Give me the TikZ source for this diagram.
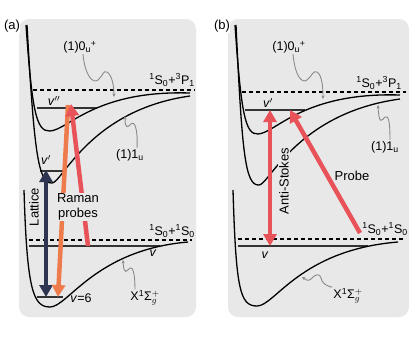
\documentclass[tikz,border=0pt]{standalone}
\usepackage{fontspec}
\setmainfont{Liberation Sans}
\usetikzlibrary{arrows.meta}
\definecolor{panel}{HTML}{E9E8E9}
\definecolor{navy}{HTML}{2D3550}
\definecolor{salmon}{HTML}{EE7B4C}
\definecolor{rose}{HTML}{E8535A}
\definecolor{wiggle}{HTML}{8A8A8A}

\begin{document}
\begin{tikzpicture}[x=1pt, y=-1pt,
  potential/.style={black, line width=1.3pt},
  asym/.style={black, line width=1.1pt, dash pattern=on 4pt off 3pt},
  vib/.style={black!80, line width=1.1pt},
  pointer/.style={wiggle, line width=0.9pt, -{Stealth[length=3.5pt,width=3.2pt]}},
  beam/.style={line width=4.5pt, -{Triangle[length=12pt,width=13pt]}},
  twoway/.style={line width=4.5pt, {Triangle[length=12pt,width=13pt]}-{Triangle[length=12pt,width=13pt]}},
  statelabel/.style={font=\fontsize{12.5}{14}\selectfont, inner sep=1pt},
  biglabel/.style={font=\fontsize{13}{15}\selectfont, inner sep=1pt}
]
  \useasboundingbox (0,0) rectangle (415,338);
  \fill[panel, rounded corners=10pt] (19,19) rectangle (196,317);
  \fill[panel, rounded corners=10pt] (228,19) rectangle (409,317);
  \node[biglabel, fill=white, inner sep=0.5pt] (taga) at (12,26.5) {(a)};
  \node[biglabel, fill=white, inner sep=0.5pt] (tagb) at (222,26.5) {(b)};

  % (a) Raman
  \draw[asym] (33,90) -- (195,90);
  \draw[asym] (29,240) -- (192,240);
  \draw[vib] (37,108) -- (97,108);
  \draw[vib] (40,171) -- (63,171);
  \draw[vib] (29,246) -- (160,246);
  \draw[vib] (37,297) -- (63,297);
  \draw[potential] (26,25) .. controls (32,110) and (36,132) .. (50,131) .. controls (68,130) and (95,90) .. (190,93);
  \draw[potential] (27,25) .. controls (34,150) and (38,184) .. (52,183) .. controls (62,183) and (90,110) .. (190,96);
  \draw[potential] (24,190) .. controls (27,290) and (33,307) .. (50,307) .. controls (68,307) and (95,250) .. (188,242);

  \coordinate (lattop) at (46,170);
  \coordinate (latbot) at (46,297);
  \coordinate (orgtop) at (68,105);
  \coordinate (orgbot) at (58,297);
  \coordinate (redbot) at (88,246);
  \coordinate (redtop) at (71,104);
  \draw[twoway, navy] (lattop) -- (latbot);
  \draw[beam, salmon] (orgtop) -- (orgbot);
  \draw[beam, rose] (redbot) -- (redtop);
  \node[biglabel, fill=panel, align=center] (raman) at (78,207) {Raman\\probes};
  \node[biglabel, rotate=90] (lattice) at (34,207) {Lattice};

  \node[statelabel] (l0ua) at (80,47) {(1)0\textsubscript{u}\textsuperscript{+}};
  \node[statelabel] (l1ua) at (130,155) {(1)1\textsubscript{u}};
  \node[statelabel] (lXa) at (145,298) {X\textsuperscript{1}Σ$_{g}^{+}$};
  \node[statelabel] (s3pa) at (172,80) {\textsuperscript{1}S\textsubscript{0}+\textsuperscript{3}P\textsubscript{1}};
  \node[statelabel] (s1sa) at (172,231) {\textsuperscript{1}S\textsubscript{0}+\textsuperscript{1}S\textsubscript{0}};
  \node[statelabel] (vppa) at (54,101) {\textit{v}$''$};
  \node[statelabel] (vpa) at (46,160) {\textit{v}$'$};
  \node[statelabel] (va) at (153,253) {\textit{v}};
  \node[statelabel] (v6a) at (81,298) {\textit{v}=6};

  \coordinate (c0ua) at (114,97);
  \coordinate (c1ua) at (125,116);
  \coordinate (cXa) at (123,260);
  \draw[pointer] ([xshift=3pt]l0ua.south) .. controls (85,76) and (93,84) .. (98,80) .. controls (103,76) and (103,70) .. (107,72) .. controls (112,75) and (114,86) .. (c0ua);
  \draw[pointer] ([xshift=7pt]l1ua.north) .. controls (138,131) and (135,120) .. (131,124) .. controls (128,127) and (125,130) .. (c1ua);
  \draw[pointer] ([xshift=-10pt]lXa.north) .. controls (135,275) and (133,266) .. (130,268) .. controls (127,270) and (124,277) .. (cXa);

  % (b) anti-Stokes
  \draw[asym] (242,92) -- (406,92);
  \draw[asym] (238,239) -- (405,239);
  \draw[vib] (245,110) -- (305,110);
  \draw[vib] (238,246) -- (368,246);
  \draw[potential] (235,25) .. controls (241,112) and (245,135) .. (258,134) .. controls (276,133) and (303,92) .. (400,95);
  \draw[potential] (236,25) .. controls (242,152) and (245,186) .. (259,185) .. controls (269,185) and (297,113) .. (400,99);
  \draw[potential] (233,190) .. controls (236,290) and (240,306) .. (257,306) .. controls (275,306) and (300,250) .. (398,242);

  \coordinate (astop) at (270,110);
  \coordinate (asbot) at (270,246);
  \coordinate (prbot) at (360,233);
  \coordinate (prtop) at (290,110);
  \draw[twoway, rose] (astop) -- (asbot);
  \draw[beam, rose] (prbot) -- (prtop);
  \node[biglabel, rotate=90, fill=panel] (antistokes) at (284,181) {Anti-Stokes};
  \node[biglabel] (probe) at (352,176) {Probe};

  \node[statelabel] (l0ub) at (289,47) {(1)0\textsubscript{u}\textsuperscript{+}};
  \node[statelabel] (l1ub) at (385,147) {(1)1\textsubscript{u}};
  \node[statelabel] (lXb) at (348,296) {X\textsuperscript{1}Σ$_{g}^{+}$};
  \node[statelabel] (s3pb) at (379,83) {\textsuperscript{1}S\textsubscript{0}+\textsuperscript{3}P\textsubscript{1}};
  \node[statelabel] (s1sb) at (385,229) {\textsuperscript{1}S\textsubscript{0}+\textsuperscript{1}S\textsubscript{0}};
  \node[statelabel] (vpb) at (268,103) {\textit{v}$'$};
  \node[statelabel] (vb) at (265,255) {\textit{v}};

  \coordinate (c0ub) at (323,99);
  \coordinate (c1ub) at (378,105);
  \coordinate (cXb) at (302,277);
  \draw[pointer] ([xshift=4pt]l0ub.south) .. controls (295,76) and (302,84) .. (307,80) .. controls (312,76) and (313,70) .. (317,72) .. controls (322,75) and (323,87) .. (c0ub);
  \draw[pointer] ([xshift=5pt]l1ub.north) .. controls (390,125) and (389,114) .. (385,117) .. controls (382,120) and (379,126) .. (c1ub);
  \draw[pointer] (lXb.north west) .. controls (326,286) and (322,283) .. (321,278) .. controls (320,273) and (315,274) .. (311,279) .. controls (308,282) and (305,279) .. (cXb);
\end{tikzpicture}
\end{document}
